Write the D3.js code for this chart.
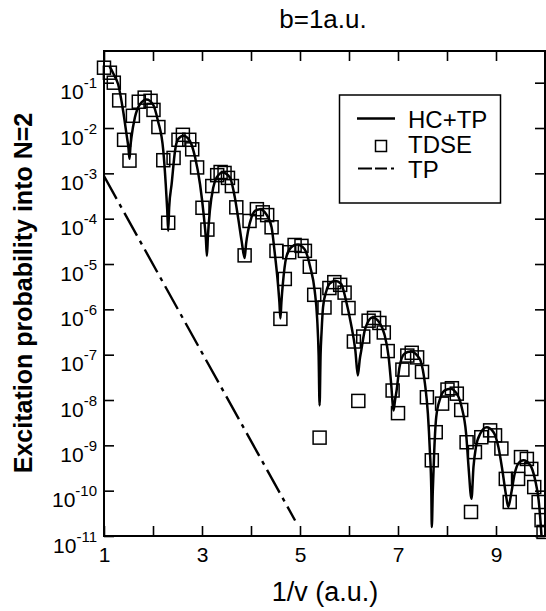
<!DOCTYPE html>
<html>
<head>
<meta charset="utf-8">
<script src="https://cdn.jsdelivr.net/npm/d3@7/dist/d3.min.js"></script>
<style>
  html, body { margin: 0; padding: 0; background: #fff; }
  svg { display: block; }
  text { font-family: "Liberation Sans", Arial, Helvetica, sans-serif; fill: #000; }
</style>
</head>
<body>
<svg id="chart" width="546" height="611"></svg>
<script>
// ---------------- data ----------------
const titleText = "b=1a.u.";
const xTitle = "1/v (a.u.)";
const yTitle = "Excitation probability into N=2";
const seriesNames = ["HC+TP", "TDSE", "TP"];

const xTicks = [1, 2, 3, 4, 5, 6, 7, 8, 9, 10];
const xTickLabels = [1, 3, 5, 7, 9];
const yTickExponents = [-1, -2, -3, -4, -5, -6, -7, -8, -9, -10, -11];

// HC+TP (solid curve)
const hcX = [1.11, 1.20, 1.29, 1.39, 1.46, 1.50, 1.52,
  1.54, 1.56, 1.63, 1.73, 1.87, 2.00, 2.10, 2.21, 2.26, 2.29, 2.31,
  2.33, 2.38, 2.45, 2.51, 2.62, 2.75, 2.86, 2.96, 3.04, 3.08, 3.10,
  3.12, 3.16, 3.23, 3.30, 3.42, 3.57, 3.67, 3.74, 3.81, 3.87,
  3.90, 3.94, 4.01, 4.08, 4.18, 4.31, 4.42, 4.48, 4.55, 4.58, 4.60,
  4.62, 4.65, 4.72, 4.82, 4.94, 5.09, 5.21, 5.30, 5.35, 5.38, 5.40,
  5.42, 5.44, 5.47, 5.54, 5.60, 5.72, 5.84, 5.94, 6.04, 6.13, 6.18,
  6.22, 6.25, 6.32, 6.38, 6.48, 6.62, 6.72, 6.81, 6.86, 6.91,
  6.94, 6.97, 7.03, 7.13, 7.26, 7.40, 7.46, 7.55, 7.61, 7.65, 7.68, 7.69,
  7.71, 7.74, 7.78, 7.86, 7.95, 8.07, 8.20, 8.30, 8.39, 8.44, 8.50,
  8.54, 8.59, 8.68, 8.81, 8.95, 9.05, 9.13, 9.20, 9.25,
  9.32, 9.38, 9.45, 9.56, 9.70, 9.80, 9.87, 9.93, 9.96];
const hcY = [2.34e-1, 1.51e-1, 9.12e-2, 2.40e-2, 7.24e-3, 3.55e-3, 2.09e-3,
  3.98e-3, 6.17e-3, 1.70e-2, 3.31e-2, 4.27e-2, 3.31e-2, 1.45e-2, 3.16e-3, 5.75e-4, 1.58e-4, 5.37e-5,
  1.78e-4, 5.75e-4, 3.16e-3, 5.62e-3, 6.76e-3, 5.25e-3, 2.24e-3, 5.75e-4, 1.07e-4, 3.55e-5, 1.51e-5,
  3.98e-5, 1.48e-4, 4.90e-4, 8.13e-4, 1.05e-3, 8.13e-4, 2.95e-4, 1.00e-4, 3.16e-5, 1.35e-5,
  2.82e-5, 5.37e-5, 1.07e-4, 1.48e-4, 1.62e-4, 1.26e-4, 6.46e-5, 1.95e-5, 3.63e-6, 1.41e-6, 6.31e-7,
  1.41e-6, 3.63e-6, 1.41e-5, 2.34e-5, 2.69e-5, 2.14e-5, 8.51e-6, 2.57e-6, 6.31e-7, 1.0e-7, 7.59e-9,
  1.0e-7, 3.16e-7, 1.10e-6, 2.57e-6, 3.63e-6, 4.27e-6, 3.63e-6, 1.55e-6, 4.79e-7, 1.23e-7, 3.47e-8,
  7.94e-8, 1.23e-7, 3.39e-7, 5.13e-7, 6.61e-7, 5.13e-7, 2.88e-7, 8.71e-8, 2.29e-8, 5.89e-9,
  1.0e-8, 1.58e-8, 5.25e-8, 1.05e-7, 1.17e-7, 9.33e-8, 7.41e-8, 2.29e-8, 5.01e-9, 7.76e-10, 1.0e-10, 1.58e-11,
  1.0e-10, 7.76e-10, 4.17e-9, 1.07e-8, 1.62e-8, 1.78e-8, 1.38e-8, 6.92e-9, 1.82e-9, 3.31e-10, 6.61e-11,
  3.31e-10, 9.12e-10, 1.82e-9, 2.51e-9, 1.95e-9, 9.12e-10, 2.82e-10, 8.51e-11, 4.37e-11,
  1.0e-10, 2.34e-10, 3.89e-10, 4.68e-10, 3.63e-10, 1.70e-10, 6.17e-11, 9.55e-12, 2.5e-12];

// TDSE (open squares)
const tdseX = [1.00, 1.12, 1.20, 1.31, 1.41, 1.52, 1.59, 1.71, 1.83, 1.95, 2.01, 2.11, 2.21, 2.31,
  2.42, 2.52, 2.61, 2.74, 2.80, 2.90, 3.01, 3.11, 3.21, 3.31, 3.38, 3.46, 3.53, 3.61, 3.70,
  3.87, 3.97, 4.12, 4.24, 4.33, 4.42, 4.52, 4.60, 4.69, 4.78, 4.89, 5.03, 5.10, 5.20, 5.29,
  5.40, 5.50, 5.60, 5.70, 5.82, 5.91, 5.99, 6.10, 6.19, 6.29, 6.40, 6.51, 6.62, 6.71, 6.79,
  6.89, 7.00, 7.09, 7.19, 7.28, 7.39, 7.49, 7.59, 7.69, 7.77, 7.90, 8.01, 8.10, 8.20, 8.29,
  8.40, 8.49, 8.57, 8.70, 8.88, 8.98, 9.11, 9.20, 9.28, 9.45, 9.51, 9.63, 9.72, 9.78, 9.87,
  9.93, 9.97];
const tdseY = [2.14e-1, 1.66e-1, 1.0e-1, 4.07e-2, 5.50e-3, 1.91e-3, 1.86e-2, 3.80e-2, 4.68e-2, 3.98e-2, 2.51e-2, 1.05e-2, 1.95e-3, 8.13e-5,
  2.19e-3, 5.50e-3, 7.08e-3, 5.50e-3, 3.39e-3, 1.35e-3, 1.74e-4, 5.75e-5, 5.25e-4, 9.12e-4, 1.07e-3, 1.02e-3, 7.94e-4, 5.25e-4, 1.78e-4,
  1.55e-5, 8.91e-5, 1.62e-4, 1.38e-4, 1.20e-4, 6.46e-5, 1.95e-5, 6.17e-7, 4.68e-6, 1.82e-5, 2.63e-5, 2.51e-5, 1.95e-5, 8.71e-6, 2.09e-6,
  1.48e-9, 1.10e-6, 2.95e-6, 3.98e-6, 3.47e-6, 2.34e-6, 1.07e-6, 1.95e-7, 9.55e-9, 2.51e-7, 5.62e-7, 6.46e-7, 5.01e-7, 3.09e-7, 1.20e-7,
  1.62e-8, 5.13e-9, 4.68e-8, 9.55e-8, 1.10e-7, 8.71e-8, 4.17e-8, 1.15e-8, 4.68e-10, 1.95e-9, 8.32e-9, 1.70e-8, 1.82e-8, 1.38e-8, 6.03e-9,
  1.17e-9, 3.39e-11, 7.08e-10, 1.51e-9, 2.14e-9, 1.66e-9, 8.51e-10, 1.82e-10, 5.62e-11, 1.82e-10, 5.50e-10, 5.01e-10, 3.02e-10, 1.20e-10, 5.62e-11,
  2.24e-11, 1.23e-11];

// TP (dash-dot line)
const tpX = [1.0, 4.9];
const tpY = [8.7e-4, 2.2e-11];

// ---------------- layout ----------------
const svg = d3.select("#chart");
const L = 104, R = 545, T = 51, B = 536;
const FONT = '"Liberation Sans", Arial, Helvetica, sans-serif';

const x = d3.scaleLinear().domain([1, 10]).range([L, R]);
const y = d3.scaleLog().domain([1e-11, 0.5]).range([B, T]);

svg.append("defs").append("clipPath").attr("id", "plotClip")
  .append("rect").attr("x", L).attr("y", T).attr("width", R - L).attr("height", B - T);

// axes (ticks inward)
const tickLen = 10;
const gBottom = svg.append("g").attr("transform", `translate(0,${B})`)
  .call(d3.axisBottom(x).tickValues(xTicks).tickSize(-tickLen).tickPadding(tickLen + 6)
    .tickFormat(d => xTickLabels.includes(d) ? String(d) : ""));
const gTop = svg.append("g").attr("transform", `translate(0,${T})`)
  .call(d3.axisTop(x).tickValues(xTicks).tickSize(-tickLen).tickFormat(""));
const yTickValues = yTickExponents.map(e => Math.pow(10, e));
const gLeft = svg.append("g").attr("transform", `translate(${L},0)`)
  .call(d3.axisLeft(y).tickValues(yTickValues).tickSize(-tickLen).tickFormat(""));
const gRight = svg.append("g").attr("transform", `translate(${R},0)`)
  .call(d3.axisRight(y).tickValues(yTickValues).tickSize(-tickLen).tickFormat(""));

[gBottom, gTop, gLeft, gRight].forEach(g => {
  g.select(".domain").remove();
  g.selectAll(".tick line").attr("stroke", "#000").attr("stroke-width", 1.6);
});
gBottom.selectAll(".tick text")
  .attr("font-family", FONT).attr("font-size", 21).attr("fill", "#000")
  .attr("dy", "0.71em").attr("y", 11);

// y tick labels 10^n
gLeft.selectAll(".tick").each(function(d) {
  const e = Math.round(Math.log10(d));
  const t = d3.select(this).append("text")
    .attr("x", -7).attr("y", 16)
    .attr("text-anchor", "end")
    .attr("font-family", FONT).attr("font-size", 21).attr("fill", "#000");
  t.append("tspan").text("10");
  t.append("tspan").attr("dy", -11).attr("font-size", 15).text(String(e));
});

// frame
svg.append("rect").attr("x", L).attr("y", T).attr("width", R - L).attr("height", B - T)
  .attr("fill", "none").attr("stroke", "#000").attr("stroke-width", 2);

// TP line
const tpData = tpX.map((v, i) => [v, tpY[i]]);
svg.append("path").datum(tpData)
  .attr("clip-path", "url(#plotClip)")
  .attr("fill", "none").attr("stroke", "#000").attr("stroke-width", 2.4)
  .attr("stroke-dasharray", "26,6,4,6")
  .attr("d", d3.line().x(d => x(d[0])).y(d => y(d[1])));

// HC+TP curve
const hcData = hcX.map((v, i) => [v, hcY[i]]);
svg.append("path").datum(hcData)
  .attr("clip-path", "url(#plotClip)")
  .attr("fill", "none").attr("stroke", "#000").attr("stroke-width", 2.5)
  .attr("stroke-linejoin", "round")
  .attr("d", d3.line().x(d => x(d[0])).y(d => y(d[1])).curve(d3.curveMonotoneX));

// TDSE squares
const sq = 13;
const tdseData = tdseX.map((v, i) => [v, tdseY[i]]);
svg.append("g").selectAll("rect").data(tdseData).join("rect")
  .attr("x", d => x(d[0]) - sq / 2).attr("y", d => y(d[1]) - sq / 2)
  .attr("width", sq).attr("height", sq)
  .attr("fill", "none").attr("stroke", "#000").attr("stroke-width", 1.5);

// legend
const lg = svg.append("g");
lg.append("rect").attr("x", 339.5).attr("y", 95).attr("width", 161).attr("height", 108)
  .attr("fill", "#fff").attr("stroke", "#000").attr("stroke-width", 1.5);
lg.append("line").attr("x1", 357).attr("x2", 395).attr("y1", 118.5).attr("y2", 118.5)
  .attr("stroke", "#000").attr("stroke-width", 2.5);
lg.append("rect").attr("x", 375.5).attr("y", 140.5).attr("width", 11).attr("height", 11)
  .attr("fill", "none").attr("stroke", "#000").attr("stroke-width", 1.5);
lg.append("line").attr("x1", 358).attr("x2", 394).attr("y1", 168.5).attr("y2", 168.5)
  .attr("stroke", "#000").attr("stroke-width", 2.2).attr("stroke-dasharray", "14,3,12,4,3");
[[seriesNames[0], 128], [seriesNames[1], 153], [seriesNames[2], 178]].forEach(([s, by]) => {
  lg.append("text").attr("x", 408).attr("y", by).attr("font-family", FONT)
    .attr("font-size", 24).text(s);
});

// titles
svg.append("text").attr("x", 323).attr("y", 28).attr("text-anchor", "middle")
  .attr("font-family", FONT).attr("font-size", 26).text(titleText);
svg.append("text").attr("x", 325).attr("y", 601).attr("text-anchor", "middle")
  .attr("font-family", FONT).attr("font-size", 27).text(xTitle);
svg.append("text").attr("transform", "translate(32,293) rotate(-90)")
  .attr("text-anchor", "middle").attr("font-family", FONT).attr("font-weight", "bold")
  .attr("font-size", 25).text(yTitle);
</script>
</body>
</html>
